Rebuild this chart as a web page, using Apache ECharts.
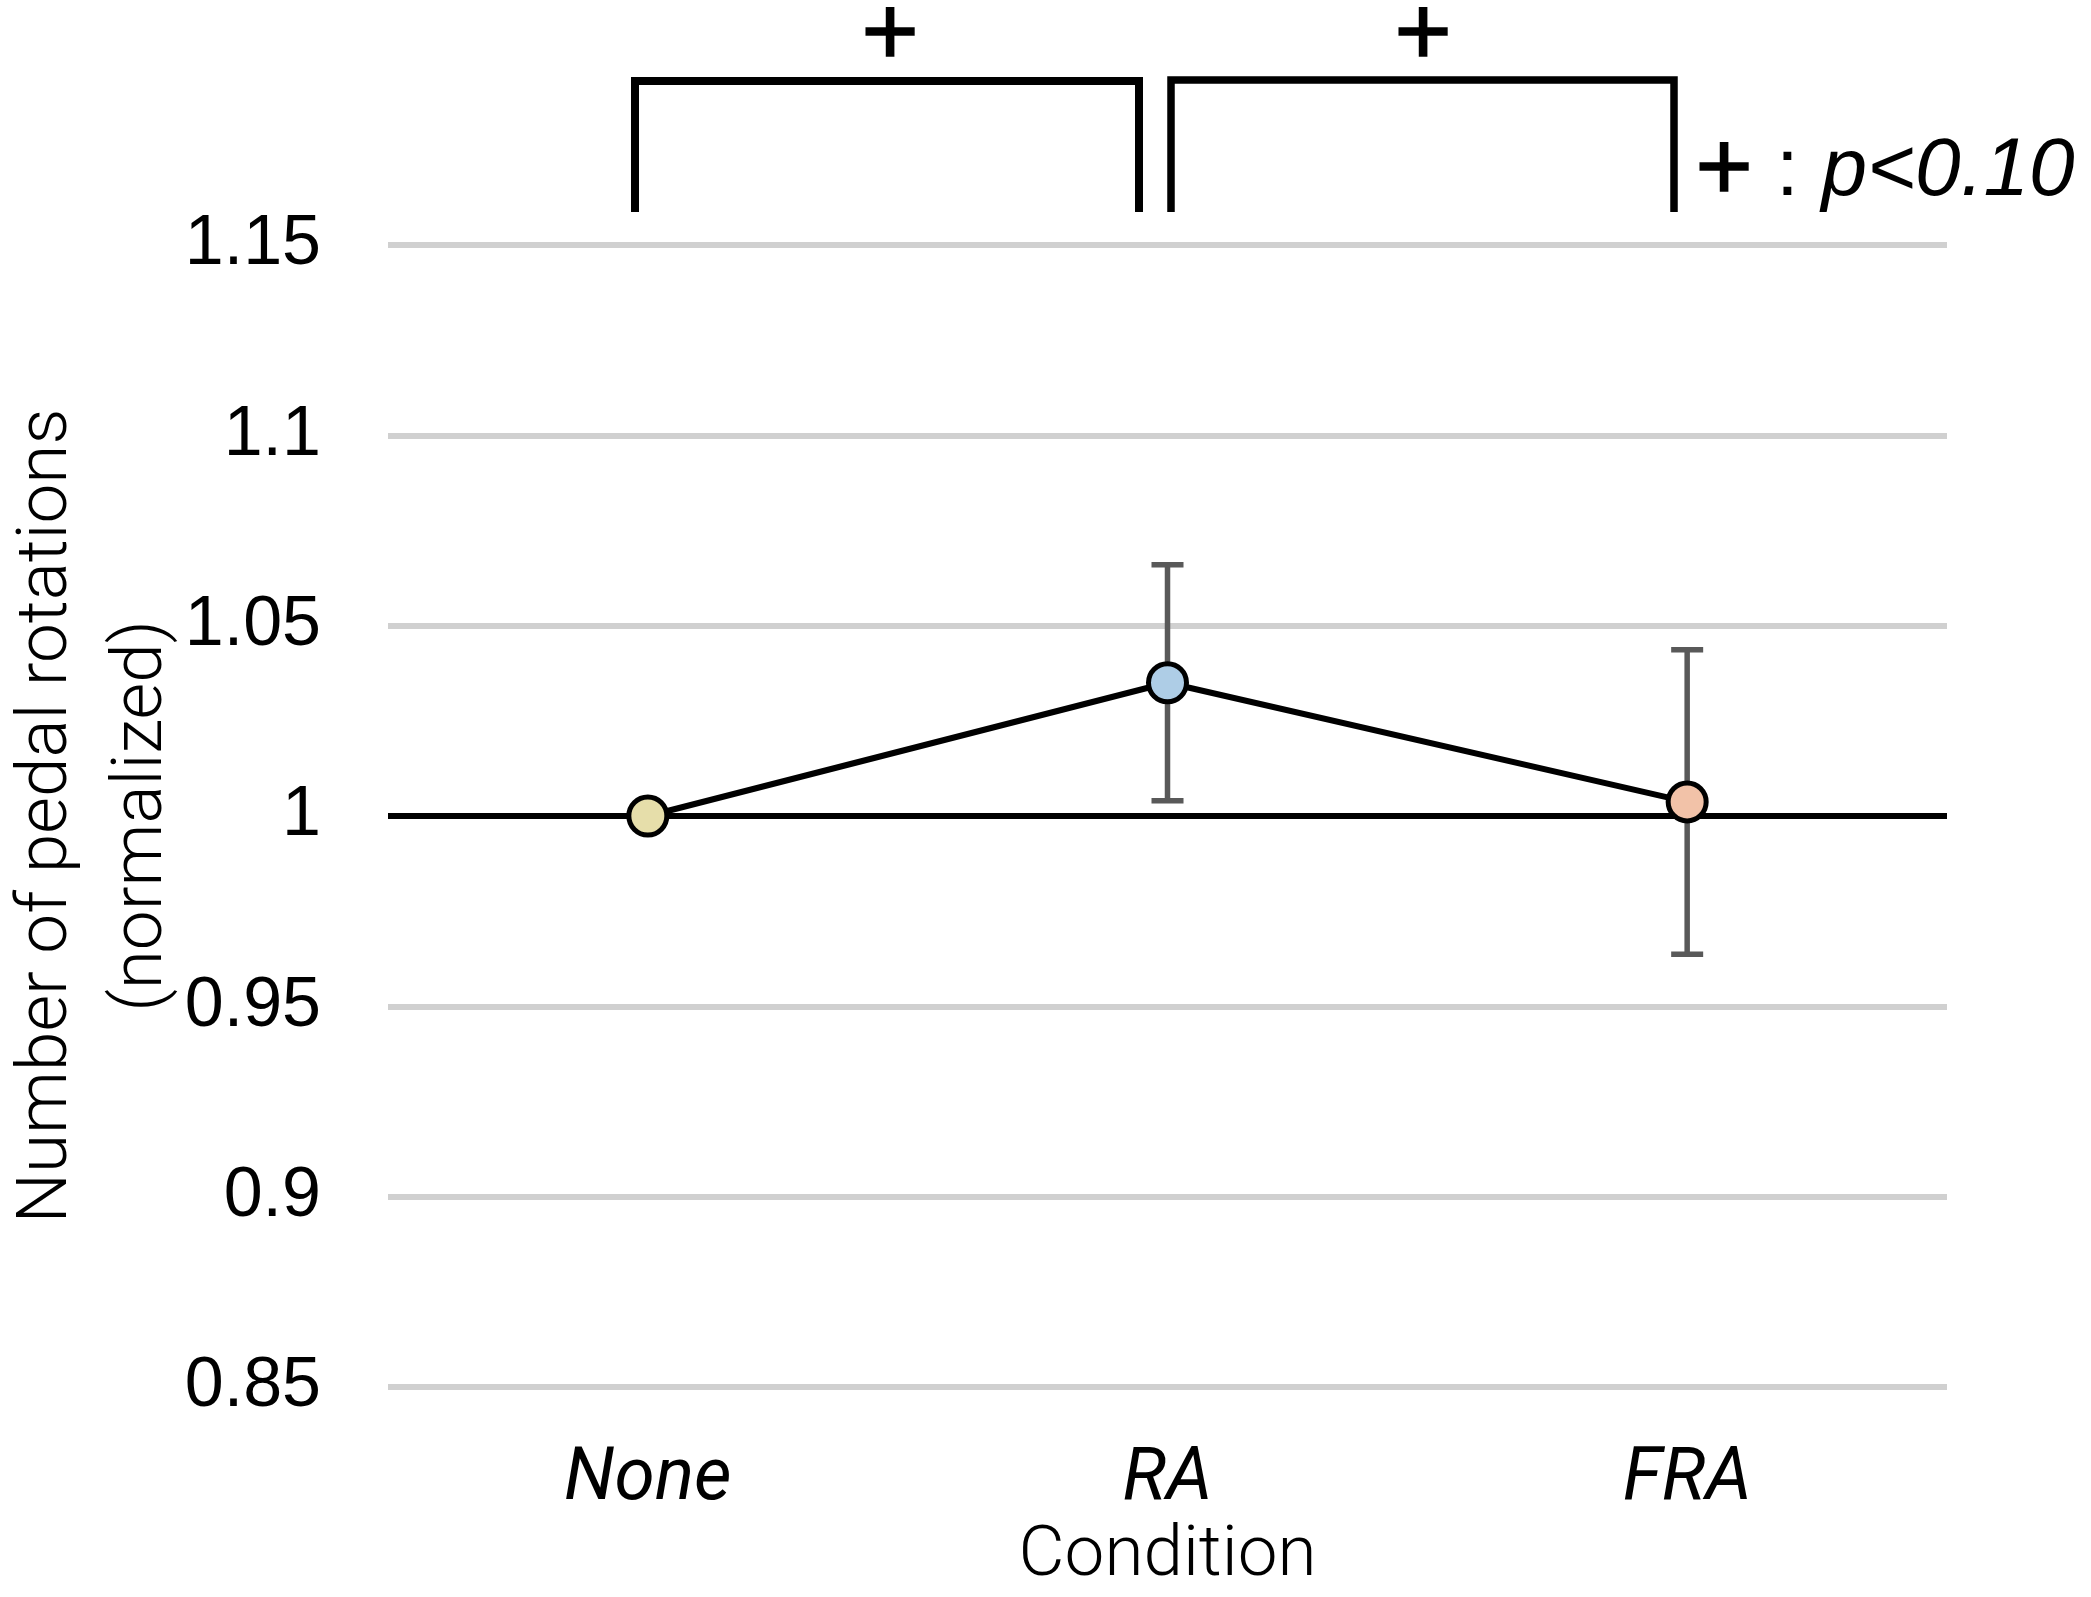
<!DOCTYPE html>
<html><head><meta charset="utf-8">
<script src="https://cdn.jsdelivr.net/npm/echarts@6/dist/echarts.min.js"></script>
<style>html,body{margin:0;padding:0;background:#fff}#c{width:2091px;height:1597px}</style>
</head><body><div id="c"></div>
<script>
// ---- data ----
const categories = ['None', 'RA', 'FRA'];
const means = [1.0, 1.035, 1.0037];
const errors = [0, 0.031, 0.040];
const markerColors = ['#e6deaa', '#aecde6', '#f2c2a8'];
const yMin = 0.85, yMax = 1.15, yStep = 0.05;
const sigLabel = '+';
const legendText = 'p<0.10';

const chart = echarts.init(document.getElementById('c'), null, {renderer: 'canvas'});

const errData = means.map((m, i) => [i, m - errors[i], m + errors[i]]);

const plusStyle = {text: sigLabel, font: '98px "Liberation Sans"', fill: '#000', stroke: '#000', lineWidth: 1.6, align: 'center', verticalAlign: 'middle'};

const option = {
  animation: false,
  backgroundColor: '#fff',
  grid: {left: 388, right: 144, top: 245, bottom: 210, containLabel: false, outerBoundsMode: 'none'},
  xAxis: {
    type: 'category',
    data: categories,
    boundaryGap: true,
    axisLine: {show: false},
    axisTick: {show: false},
    axisLabel: {
      fontFamily: 'Roboto', fontStyle: 'italic', fontSize: 73, color: '#000',
      margin: 94, verticalAlign: 'middle'
    },
    name: 'Condition',
    nameLocation: 'middle',
    nameGap: 170,
    nameMoveOverlap: false,
    nameTextStyle: {fontFamily: 'Roboto', fontWeight: 300, fontSize: 71, color: '#000', verticalAlign: 'middle'}
  },
  yAxis: {
    type: 'value',
    min: yMin, max: yMax, interval: yStep,
    axisLine: {show: false},
    axisTick: {show: false},
    splitLine: {show: true, lineStyle: {color: '#d0d0d0', width: 6}},
    axisLabel: {
      fontFamily: 'Liberation Sans', fontSize: 70, color: '#000', margin: 67,
      formatter: v => String(Math.round(v * 100) / 100)
    },
    name: 'Number of pedal rotations\n(normalized)',
    nameLocation: 'middle',
    nameGap: 292,
    nameMoveOverlap: false,
    nameRotate: 90,
    nameTextStyle: {fontFamily: 'Roboto', fontWeight: 300, fontSize: 71, lineHeight: 95, color: '#000', align: 'center', verticalAlign: 'middle'}
  },
  series: [
    {
      type: 'custom',
      z: 1,
      data: errData,
      encode: {x: 0, y: [1, 2]},
      renderItem: function (params, api) {
        const x = api.value(0), lo = api.value(1), hi = api.value(2);
        if (!(hi - lo > 0)) return null;
        const pLo = api.coord([x, lo]), pHi = api.coord([x, hi]);
        const hw = 16;
        const style = {stroke: '#595959', lineWidth: 5.5, fill: null};
        return {type: 'group', children: [
          {type: 'line', shape: {x1: pHi[0], y1: pHi[1], x2: pLo[0], y2: pLo[1]}, style: style},
          {type: 'line', shape: {x1: pHi[0] - hw, y1: pHi[1], x2: pHi[0] + hw, y2: pHi[1]}, style: style},
          {type: 'line', shape: {x1: pLo[0] - hw, y1: pLo[1], x2: pLo[0] + hw, y2: pLo[1]}, style: style}
        ]};
      },
      markLine: {
        silent: true, z: 2, symbol: 'none', label: {show: false},
        lineStyle: {color: '#000', width: 6, type: 'solid'},
        data: [{yAxis: 1}]
      }
    },
    {
      type: 'line',
      z: 3,
      data: means.map((v, i) => ({value: v, itemStyle: {color: markerColors[i]}})),
      symbol: 'circle',
      symbolSize: 38,
      itemStyle: {borderColor: '#000', borderWidth: 5},
      lineStyle: {color: '#000', width: 6},
      emphasis: {disabled: true}
    }
  ],
  graphic: [
    {type: 'polyline', shape: {points: [[635, 212], [635, 81], [1139, 81], [1139, 212]]},
     style: {stroke: '#000', lineWidth: 8, fill: null, lineJoin: 'miter', lineCap: 'butt'}},
    {type: 'polyline', shape: {points: [[1171, 212], [1171, 80], [1674, 80], [1674, 212]]},
     style: {stroke: '#000', lineWidth: 7.5, fill: null, lineJoin: 'miter', lineCap: 'butt'}},
    {type: 'text', x: 890, y: 38, style: Object.assign({}, plusStyle)},
    {type: 'text', x: 1423, y: 38, style: Object.assign({}, plusStyle)},
    {type: 'text', x: 1724, y: 173, style: Object.assign({}, plusStyle)},
    {type: 'text', x: 1776, y: 172, style: {
      text: '{r|: }{i|' + legendText + '}',
      align: 'left', verticalAlign: 'middle',
      rich: {
        r: {fontFamily: 'Liberation Sans', fontSize: 82, fill: '#000'},
        i: {fontFamily: 'Liberation Sans', fontSize: 82, fontStyle: 'italic', fill: '#000'}
      }
    }}
  ]
};
chart.setOption(option);
</script>
</body></html>
